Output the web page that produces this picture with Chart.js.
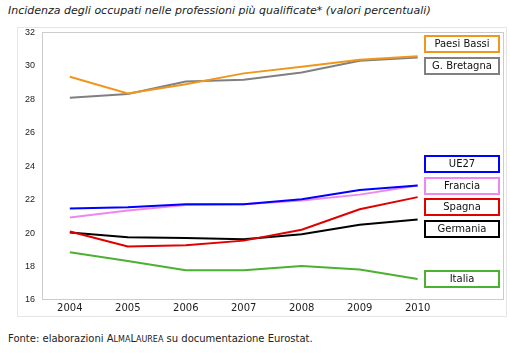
<!DOCTYPE html>
<html>
<head>
<meta charset="utf-8">
<script src="https://cdn.jsdelivr.net/npm/chart.js@4"></script>
<style>
  body { margin: 0; background: #fff; font-family: "DejaVu Sans", Verdana, sans-serif; }
  #title { position: absolute; left: 8px; top: 4px; font-size: 11px; font-style: italic; color: #222; }
  #frame { position: absolute; left: 17px; top: 27px; width: 488px; height: 288px; border: 1px solid #e6e6e6; }
  #chart { position: absolute; left: 0; top: -8px; }
  #note { position: absolute; left: 8px; top: 333px; font-size: 10px; color: #222; }
  .sc { font-size: 8px; }
</style>
</head>
<body>
<div id="title">Incidenza degli occupati nelle professioni più qualificate* (valori percentuali)</div>
<div id="frame"><canvas id="chart" width="488" height="296"></canvas></div>
<div id="note">Fonte: elaborazioni A<span class="sc">LMA</span>L<span class="sc">AUREA</span> su documentazione Eurostat.</div>
<script>
const years = [2004, 2005, 2006, 2007, 2008, 2009, 2010];
const countries = ['Paesi Bassi', 'G. Bretagna', 'UE27', 'Francia', 'Spagna', 'Germania', 'Italia'];
const paesiBassi = [29.35, 28.35, 28.9, 29.55, 29.95, 30.37, 30.58];
const gBretagna  = [28.1, 28.32, 29.07, 29.17, 29.6, 30.3, 30.5];
const ue27       = [21.47, 21.55, 21.72, 21.73, 22.03, 22.57, 22.84];
const francia    = [20.93, 21.35, 21.68, 21.72, 21.95, 22.3, 22.84];
const spagna     = [20.1, 19.2, 19.28, 19.55, 20.2, 21.43, 22.15];
const germania   = [20.03, 19.75, 19.7, 19.63, 19.93, 20.5, 20.82];
const italia     = [18.85, 18.33, 17.78, 17.78, 18.04, 17.82, 17.26];
const yTicks = [16, 18, 20, 22, 24, 26, 28, 30, 32];

// where each name box sits, in axis units
const labelAt = [31.28, 29.97, 24.12, 22.82, 21.56, 20.25, 17.28];
const colors = ['#f0961e', '#808080', '#0000ff', '#ee88ee', '#e00000', '#000000', '#4cb030'];

const series = [paesiBassi, gBretagna, ue27, francia, spagna, germania, italia];

// plot border + name boxes
const boxes = {
  id: 'boxes',
  beforeDatasetsDraw(chart) {
    const { ctx, chartArea: a } = chart;
    ctx.save();
    ctx.strokeStyle = '#cccccc';
    ctx.lineWidth = 1;
    ctx.strokeRect(Math.round(a.left) + 0.5, Math.round(a.top) + 0.5,
      Math.round(a.right - a.left) - 1, Math.round(a.bottom - a.top) - 1);
    ctx.restore();
  },
  afterDatasetsDraw(chart) {
    const { ctx } = chart;
    const y = chart.scales.y;
    const x = chart.scales.x;
    const left = Math.round(x.getPixelForValue(2010.77)) - 37;
    ctx.save();
    ctx.font = '10px "DejaVu Sans", Verdana, sans-serif';
    ctx.textAlign = 'center';
    ctx.textBaseline = 'middle';
    countries.forEach((name, i) => {
      const cy = Math.round(y.getPixelForValue(labelAt[i]));
      ctx.fillStyle = '#fff';
      ctx.fillRect(left, cy - 8, 74, 16);
      ctx.strokeStyle = colors[i];
      ctx.lineWidth = 2;
      ctx.strokeRect(left, cy - 8, 74, 16);
      ctx.fillStyle = '#111';
      ctx.fillText(name, left + 37, cy + 0.5);
    });
    ctx.restore();
  }
};

new Chart(document.getElementById('chart'), {
  type: 'line',
  data: {
    datasets: countries.map((name, i) => ({
      label: name,
      data: years.map((yr, j) => ({ x: yr, y: series[i][j] })),
      borderColor: colors[i],
      borderWidth: 2,
      pointRadius: 0,
      tension: 0
    }))
  },
  options: {
    responsive: false,
    animation: false,
    layout: { padding: { top: 0, right: 2, left: 0, bottom: 0 } },
    plugins: { legend: { display: false }, tooltip: { enabled: false } },
    scales: {
      x: {
        type: 'linear',
        min: 2003.52,
        max: 2011.49,
        afterBuildTicks: s => { s.ticks = years.map(v => ({ value: v })); },
        ticks: { color: '#222', font: { size: 10, family: '"DejaVu Sans", Verdana, sans-serif' }, padding: 2, callback: v => String(v) },
        grid: { display: false, drawTicks: false },
        border: { display: false }
      },
      y: {
        min: 16,
        max: 32,
        afterBuildTicks: s => { s.ticks = yTicks.map(v => ({ value: v })); },
        ticks: { color: '#222', font: { size: 9, family: '"Liberation Sans", Arial, sans-serif' }, padding: 7 },
        grid: { display: false, drawTicks: false },
        border: { display: false }
      }
    }
  },
  plugins: [boxes]
});
</script>
</body>
</html>
